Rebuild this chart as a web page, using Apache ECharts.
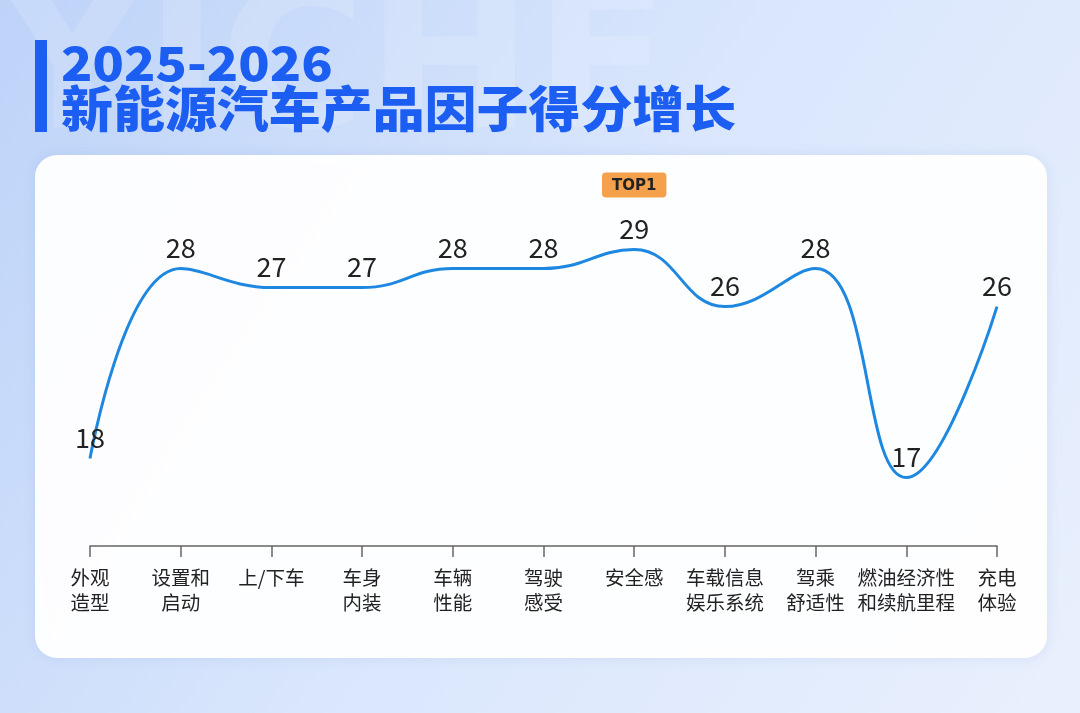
<!DOCTYPE html>
<html><head><meta charset="utf-8">
<script src="https://cdn.jsdelivr.net/npm/echarts@6/dist/echarts.min.js"></script>
<style>html,body{margin:0;padding:0;}#c{width:1080px;height:713px;}</style>
</head><body><div id="c"></div>
<script>
const categories = ['外观\n造型','设置和\n启动','上/下车','车身\n内装','车辆\n性能','驾驶\n感受','安全感','车载信息\n娱乐系统','驾乘\n舒适性','燃油经济性\n和续航里程','充电\n体验'];
const scores = [18, 28, 27, 27, 28, 28, 29, 26, 28, 17, 26];
const titleLine1 = '2025-2026';
const titleLine2 = '新能源汽车产品因子得分增长';
const badgeText = 'TOP1';

const topIdx = scores.indexOf(Math.max(...scores));
const FONT = '"Noto Sans CJK SC", "Noto Sans", sans-serif';

const chart = echarts.init(document.getElementById('c'));
chart.setOption({
  backgroundColor: {
    type: 'linear', x: 0, y: 0, x2: 1, y2: 1,
    colorStops: [{offset: 0, color: '#bdd3f8'}, {offset: 0.5, color: '#d9e6fc'}, {offset: 1, color: '#e9f0fd'}]
  },
  graphic: [
    {type: 'text', x: 0, y: -25, zlevel: 0, z: 0, style: {text: 'YICHE', font: '900 200px "DejaVu Sans", sans-serif', fill: 'rgba(255,255,255,0.14)'}},
    {type: 'rect', zlevel: 0, shape: {x: 35, y: 40, width: 12, height: 92}, style: {fill: '#1d5ef2'}, z: 2},
    {type: 'text', x: 61, y: 40, scaleX: 1.1, zlevel: 0, z: 2, style: {text: titleLine1, font: '900 47px ' + FONT, fill: '#1d5ef2'}},
    {type: 'text', x: 61, y: 84, scaleX: 1.06, zlevel: 0, z: 2, style: {text: titleLine2, font: '900 49px ' + FONT, fill: '#1d5ef2'}},
    {type: 'rect', zlevel: 0, z: 1, shape: {x: 35, y: 155, width: 1012, height: 503, r: 22},
     style: {fill: 'rgba(255,255,255,0.96)', shadowBlur: 12, shadowColor: 'rgba(120,150,210,0.18)'}}
  ],
  grid: {left: 90, right: 83, top: 185, bottom: 167},
  xAxis: {
    type: 'category', data: categories, boundaryGap: false, zlevel: 1,
    axisLine: {lineStyle: {color: '#666', width: 1.5}},
    axisTick: {show: true, alignWithLabel: true, length: 11, lineStyle: {color: '#666', width: 1.5}},
    axisLabel: {color: '#222', fontSize: 19.5, lineHeight: 25, margin: 19, fontFamily: FONT, interval: 0}
  },
  yAxis: {type: 'value', min: 13.4, max: 32.4, show: false, splitLine: {show: false}},
  series: [{
    type: 'line', data: scores, smooth: 0.45, zlevel: 1, z: 5,
    symbol: 'circle', symbolSize: 2, showSymbol: true,
    itemStyle: {color: 'rgba(0,0,0,0)'},
    lineStyle: {color: '#1e88e0', width: 3},
    label: {
      show: true, position: 'top', distance: 6,
      color: '#222', fontSize: 27, fontFamily: FONT,
      formatter: p => p.dataIndex === topIdx ? '{b|' + badgeText + '}\n{g|}\n' + p.value : String(p.value),
      rich: {
        b: {backgroundColor: '#f5a14b', color: '#222', fontWeight: 'bold', fontSize: 15, padding: [6, 10, 4, 10], borderRadius: 4, fontFamily: '"DejaVu Sans", sans-serif'},
        g: {height: 18}
      }
    }
  }]
});
</script></body></html>
